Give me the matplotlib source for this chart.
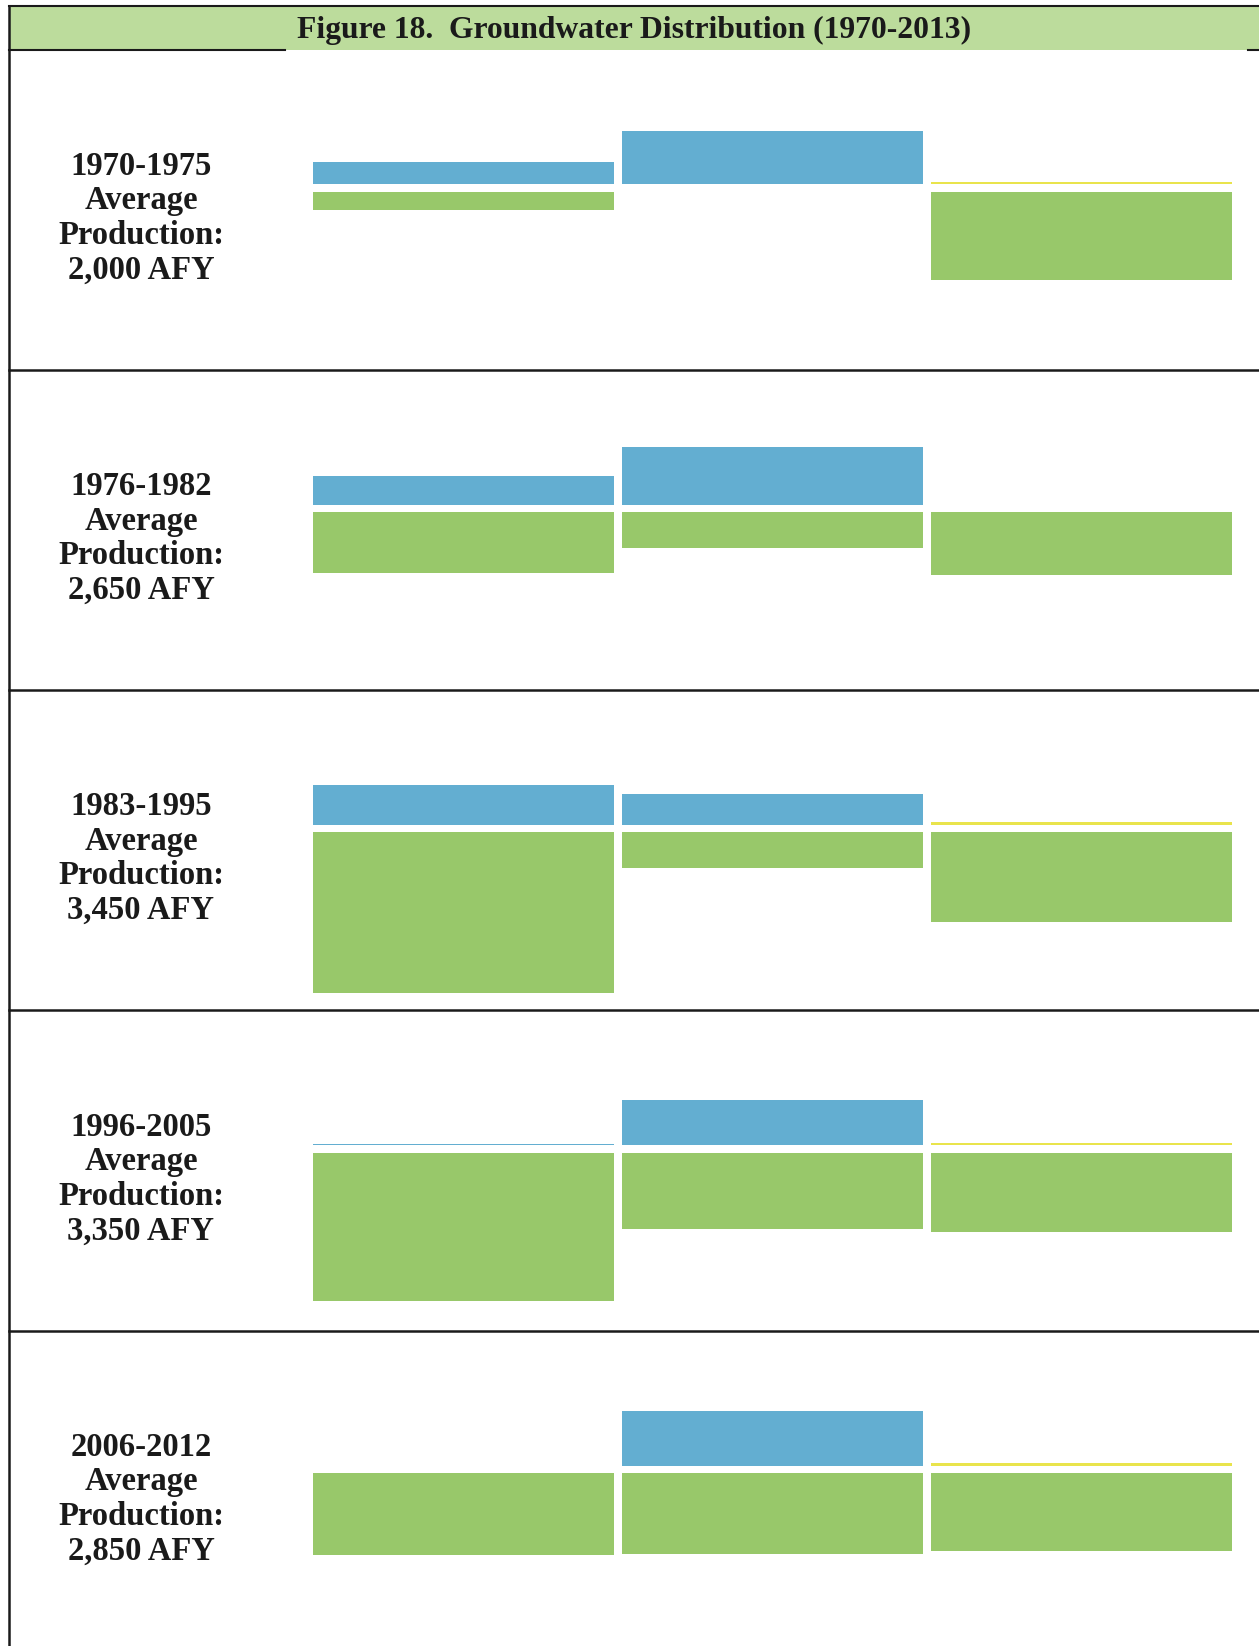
import numpy as np
import matplotlib
matplotlib.use('Agg')
import matplotlib.pyplot as plt
from matplotlib.patches import Rectangle

# Datos por periodo (alturas estimadas del grafico, AFY aprox.)
periods = ['1970-1975', '1976-1982', '1983-1995', '1996-2005', '2006-2012']
avg_production = ['2,000', '2,650', '3,450', '3,350', '2,850']

# barras por encima de la linea base (columnas 1-3)
upper = [
    [210, 510, 25],
    [270, 550, 0],
    [380, 300, 25],
    [15, 430, 25],
    [0, 520, 25],
]
# barras verdes por debajo de la linea base
lower = [
    [170, 0, 840],
    [580, 340, 600],
    [1530, 340, 850],
    [1410, 730, 760],
    [780, 770, 740],
]

BLUE = '#63aed1'
GREEN = '#98c86a'
YELLOW = '#e9e44c'
HEADER = '#bcdc9c'
upper_colors = [BLUE, BLUE, YELLOW]

W, H = 1259, 1646
fig = plt.figure(figsize=(W / 100, H / 100), dpi=100)
fig.patch.set_facecolor('white')

# capa de fondo en pixeles para el marco de la tabla
bg = fig.add_axes([0, 0, 1, 1])
bg.set_xlim(0, W)
bg.set_ylim(H, 0)
bg.axis('off')

title_top, title_bot = 5.5, 49.5
row_h = 320.3
row_tops = [title_bot + i * row_h for i in range(len(periods))]
left = 9.5

bg.add_patch(Rectangle((left, title_top), W - left, title_bot - title_top,
                       facecolor=HEADER, edgecolor='none'))
bg.plot([left, W], [title_top, title_top], color='#1a1a1a', lw=1.5)
bg.plot([left, left], [title_top, H], color='#1a1a1a', lw=1.8)
bg.plot([left, 285], [title_bot, title_bot], color='#1a1a1a', lw=1.5)
bg.plot([1248, W], [title_bot, title_bot], color='#1a1a1a', lw=1.5)
for t in row_tops[1:]:
    bg.plot([left, W], [t, t], color='#1a1a1a', lw=1.8)

bg.text(634, 30, 'Figure 18.  Groundwater Distribution (1970-2013)',
        ha='center', va='center', fontsize=22.8, fontweight='bold',
        family='Liberation Serif', color='#1a1a1a')

ax_x0, ax_x1 = 309, 1235.5
base_off = 138.6           # linea base desde el borde superior de la fila
unit = 10 / 1.05           # AFY por pixel
gap = 35                   # media separacion entre barras superior e inferior
x = np.arange(3)

for i, top in enumerate(row_tops):
    bg.text(141, top + 168.5,
            f'{periods[i]}\nAverage\nProduction:\n{avg_production[i]} AFY',
            ha='center', va='center', fontsize=23.5, fontweight='bold',
            family='Liberation Serif', color='#1a1a1a', linespacing=1.15)

    ax = fig.add_axes([ax_x0 / W, 1 - (top + row_h) / H,
                       (ax_x1 - ax_x0) / W, row_h / H])
    ax.set_xlim(-0.5, 2.5)
    ax.set_ylim(-(row_h - base_off) * unit, base_off * unit)
    ax.axis('off')
    ax.patch.set_alpha(0)

    up = np.array(upper[i])
    lo = np.array(lower[i])
    ax.bar(x, np.where(up > 0, up, np.nan), bottom=gap, width=0.975,
           color=upper_colors, edgecolor='none')
    ax.bar(x, np.where(lo > 0, -lo, np.nan), bottom=-gap, width=0.975,
           color=GREEN, edgecolor='none')

fig.savefig('out.png', dpi=100)
